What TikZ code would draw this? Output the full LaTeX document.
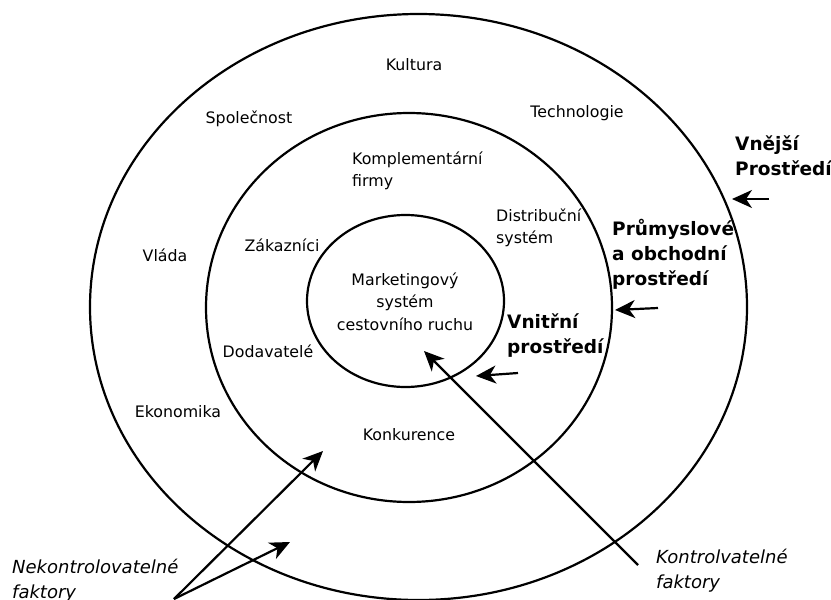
\documentclass[tikz,border=0pt]{standalone}
\usepackage{fontspec}
\setmainfont{DejaVu Sans}
\usetikzlibrary{shapes.geometric,arrows.meta}
\begin{document}
\begin{tikzpicture}[x=1pt,y=-1pt,
  ring/.style={ellipse,draw,line width=2.2pt,inner sep=0pt,outer sep=0pt},
  lbl/.style={inner sep=0pt,font=\fontsize{15.8}{22.5}\selectfont},
  lblc/.style={lbl,align=center},
  lbll/.style={lbl,align=left,anchor=west},
  bld/.style={inner sep=0pt,align=left,anchor=west,font=\fontsize{18.5}{25}\selectfont\bfseries},
  itl/.style={inner sep=0pt,align=left,anchor=west,font=\fontsize{18}{25}\selectfont\itshape},
  arr/.style={line width=2.2pt,-{Stealth[length=20pt,width=18pt,inset=6pt]}}
]
\useasboundingbox (0,0) rectangle (831,600);
\fill[white] (0,0) rectangle (831,600);

\node[ring,minimum width=657pt,minimum height=586pt] (outer) at (418.5,307) {};
\node[ring,minimum width=406pt,minimum height=389pt] (middle) at (409,307.5) {};
\node[ring,minimum width=197pt,minimum height=172pt] (inner) at (405.5,301) {};

% outer ring labels
\node[lblc] (kultura) at (414,65) {Kultura};
\node[lblc] (spol) at (249,119) {Společnost};
\node[lblc] (tech) at (577,113) {Technologie};
\node[lblc] (vlada) at (165,255) {Vláda};
\node[lblc] (ekon) at (178,412) {Ekonomika};

% middle ring labels
\node[lbll] (kompl) at (352,171) {Komplementární\\firmy};
\node[lbll] (distr) at (496,228) {Distribuční\\systém};
\node[lblc] (zak) at (282,245) {Zákazníci};
\node[lblc] (dod) at (268,351) {Dodavatelé};
\node[lblc] (konk) at (409,435) {Konkurence};

% centre
\node[lblc] (mark) at (405,301.5) {Marketingový\\systém\\cestovního ruchu};

% bold labels
\node[bld] (vnejsi) at (735,155.5) {Vnější\\Prostředí};
\node[bld] (prum) at (612,254) {Průmyslové\\a obchodní\\prostředí};
\node[bld] (vnitr) at (507,335.5) {Vnitřní\\prostředí};

% italic labels
\node[itl] (nekon) at (12,580.5) {Nekontrolovatelné\\faktory};
\node[itl] (kon) at (656,570.5) {Kontrolvatelné\\faktory};

% arrow end points
\coordinate (vnT) at (769,199);
\coordinate (vnH) at (732,199);
\coordinate (prT) at (658,308);
\coordinate (prH) at (615,310);
\coordinate (viT) at (518,373);
\coordinate (viH) at (476,376);
\coordinate (koT) at (638,565);
\coordinate (koH) at (424,351);
\coordinate (neT) at (174,599);
\coordinate (neH1) at (323,451);
\coordinate (neH2) at (290,542);

\draw[arr] (vnT) -- (vnH);
\draw[arr] (prT) -- (prH);
\draw[arr] (viT) -- (viH);
\draw[arr] (koT) -- (koH);
\draw[arr] (neT) -- (neH1);
\draw[arr] (neT) -- (neH2);
\end{tikzpicture}
\end{document}
